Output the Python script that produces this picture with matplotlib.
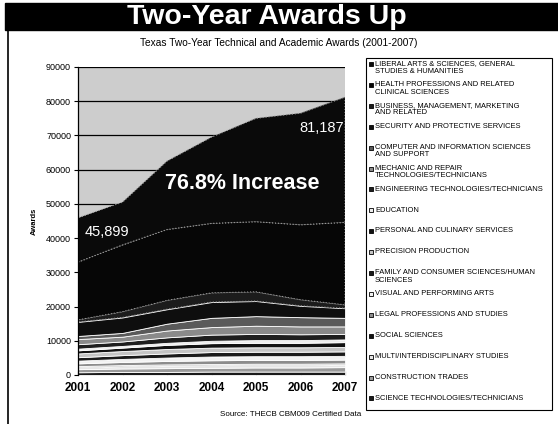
import numpy as np
import matplotlib
matplotlib.use("Agg")
import matplotlib.pyplot as plt
from matplotlib.patches import Rectangle

plt.rcParams['font.family'] = ['Liberation Sans', 'DejaVu Sans']

# data
years = [2001, 2002, 2003, 2004, 2005, 2006, 2007]

categories = [
    "LIBERAL ARTS & SCIENCES, GENERAL\nSTUDIES & HUMANITIES",
    "HEALTH PROFESSIONS AND RELATED\nCLINICAL SCIENCES",
    "BUSINESS, MANAGEMENT, MARKETING\nAND RELATED",
    "SECURITY AND PROTECTIVE SERVICES",
    "COMPUTER AND INFORMATION SCIENCES\nAND SUPPORT",
    "MECHANIC AND REPAIR\nTECHNOLOGIES/TECHNICIANS",
    "ENGINEERING TECHNOLOGIES/TECHNICIANS",
    "EDUCATION",
    "PERSONAL AND CULINARY SERVICES",
    "PRECISION PRODUCTION",
    "FAMILY AND CONSUMER SCIENCES/HUMAN\nSCIENCES",
    "VISUAL AND PERFORMING ARTS",
    "LEGAL PROFESSIONS AND STUDIES",
    "SOCIAL SCIENCES",
    "MULTI/INTERDISCIPLINARY STUDIES",
    "CONSTRUCTION TRADES",
    "SCIENCE TECHNOLOGIES/TECHNICIANS",
]

# awards per category (same order as the legend)
liberal_arts  = [12899, 12500, 20000, 25200, 30200, 32600, 36587]
health        = [16900, 19500, 20700, 20300, 20500, 21900, 24100]
business      = [600, 1700, 2600, 2700, 2700, 1800, 1000]
security      = [4100, 4500, 4200, 4600, 4400, 3300, 2800]
computer      = [900, 1100, 2000, 2700, 2800, 2700, 2500]
mechanic      = [1500, 1400, 2000, 2200, 2400, 2300, 2200]
engineering   = [1300, 1300, 1600, 1800, 1800, 1700, 1600]
education     = [500, 500, 600, 700, 800, 800, 800]
personal      = [900, 1000, 1200, 1300, 1300, 1300, 1400]
precision     = [1100, 1200, 1300, 1300, 1300, 1300, 1300]
family        = [1000, 1100, 1200, 1300, 1300, 1300, 1300]
visual        = [800, 900, 1000, 1100, 1100, 1100, 1100]
legal         = [800, 900, 1000, 1100, 1100, 1100, 1100]
social        = [300, 300, 300, 300, 300, 300, 300]
multi         = [600, 700, 800, 800, 800, 800, 800]
construction  = [900, 1000, 1100, 1100, 1200, 1200, 1300]
science_tech  = [800, 900, 900, 1000, 1000, 1000, 1000]

series = [liberal_arts, health, business, security, computer, mechanic,
          engineering, education, personal, precision, family, visual,
          legal, social, multi, construction, science_tech]

colors = ['#0a0a0a', '#060606', '#1c1c1c', '#0e0e0e', '#5a5a5a', '#8a8a8a',
          '#1e1e1e', '#ededed', '#121212', '#c4c4c4', '#1a1a1a', '#f2f2f2',
          '#8c8c8c', '#101010', '#e6e6e6', '#9a9a9a', '#1a1a1a']

fig = plt.figure(figsize=(5.58, 4.24), dpi=100)

# black title band + frame line
fig.patches.append(Rectangle((5 / 558, 1 - 30 / 424), 553 / 558, 27 / 424,
                             transform=fig.transFigure, color='black'))
fig.add_artist(plt.Line2D([8 / 558, 8 / 558], [0, 1 - 30 / 424],
                          transform=fig.transFigure, color='black', lw=1.2))
fig.text(0.478, 1 - 17 / 424, "Two-Year Awards Up", color='white',
         fontsize=20.5, fontweight='bold', ha='center', va='center')
fig.text(0.5, 1 - 43 / 424,
         "Texas Two-Year Technical and Academic Awards (2001-2007)",
         fontsize=7.3, ha='center', va='center')
fig.text(0.52, 1 - 414 / 424, "Source: THECB CBM009 Certified Data",
         fontsize=5.8, ha='center', va='center')

ax = fig.add_axes([78 / 558, 49 / 424, 267 / 558, 308 / 424])
ax.set_facecolor('#cdcdcd')

# stackplot wants bottom series first
polys = ax.stackplot(years, *series[::-1], colors=colors[::-1], zorder=2)
for i, p in enumerate(polys[::-1]):
    if i < 3:
        p.set_edgecolor('#9a9a9a')
        p.set_linestyle(':')
        p.set_linewidth(0.8)
    else:
        p.set_edgecolor('white')
        p.set_linewidth(0.6)

ax.set_xlim(2001, 2007)
ax.set_ylim(0, 90000)
ax.set_yticks(np.arange(0, 90001, 10000))
ax.set_xticks(years)
ax.set_xticklabels([str(y) for y in years], fontsize=8.5, fontweight='bold')
ax.tick_params(axis='y', labelsize=6.5, length=3, width=0.8, pad=2)
ax.tick_params(axis='x', length=3, width=0.8, pad=5, direction='in')
ax.grid(axis='y', color='black', lw=0.9, zorder=1)
ax.set_axisbelow(True)
for s in ['top', 'right', 'bottom']:
    ax.spines[s].set_visible(False)
ax.spines['left'].set_linewidth(0.9)
ax.set_ylabel("Awards", fontsize=5.5, fontweight='bold')
ax.yaxis.set_label_coords(-0.15, 0.5)

total = np.sum(series, axis=0)
ax.text(2001.15, total[0] - 4200, f"{total[0]:,}", color='white',
        fontsize=10.5, va='center', ha='left')
ax.text(2006.98, total[-1] - 9000, f"{total[-1]:,}", color='white',
        fontsize=10.5, va='center', ha='right')
ax.text(2004.7, 56000, "76.8% Increase", color='white', fontsize=15.5,
        fontweight='bold', ha='center', va='center')

# legend box on the right
fig.patches.append(Rectangle((366 / 558, 1 - 410 / 424), 186 / 558, 352 / 424,
                             transform=fig.transFigure, fill=False,
                             edgecolor='black', lw=0.8))
for i, (name, c) in enumerate(zip(categories, colors)):
    y = 1 - (64 + i * 20.9) / 424
    fig.patches.append(Rectangle((369 / 558, y - 2 / 424), 4 / 558, 4 / 424,
                                 transform=fig.transFigure, facecolor=c,
                                 edgecolor='black', lw=0.6))
    fig.text(375 / 558, y + 3.8 / 424, name, fontsize=5.4, va='top',
             ha='left', linespacing=1.1)

fig.savefig("out.png", dpi=100)
